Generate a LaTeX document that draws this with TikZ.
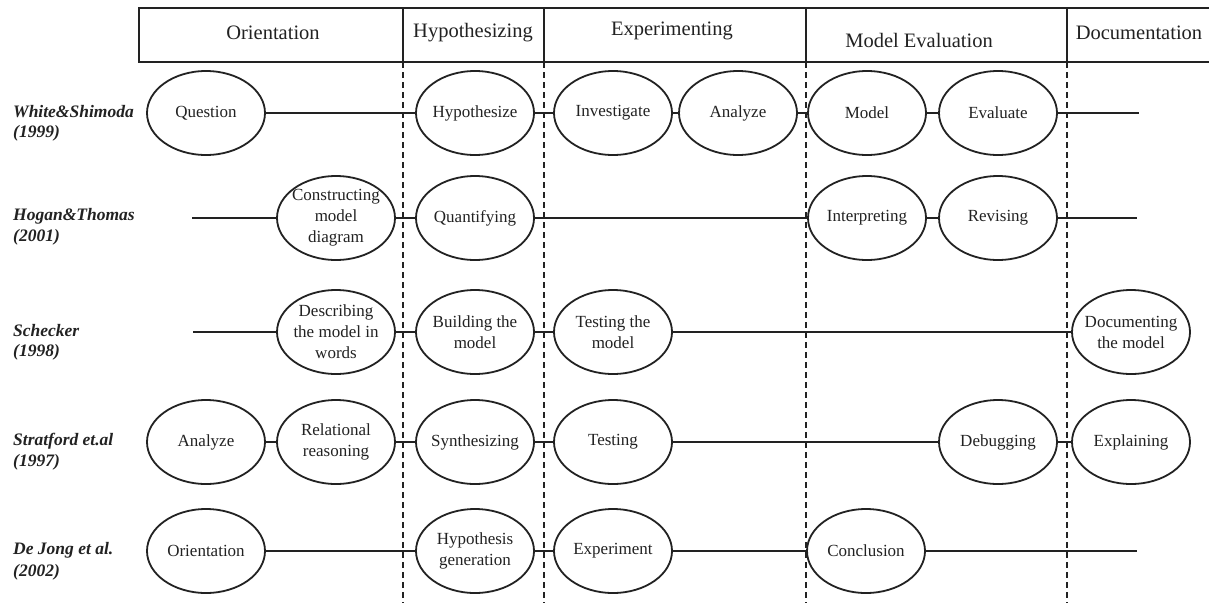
\documentclass[tikz,border=0pt]{standalone}
\usepackage{fontspec}
\setmainfont{Liberation Serif}
\usetikzlibrary{shapes.geometric}
\definecolor{ink}{HTML}{222222}
\begin{document}
\begin{tikzpicture}[x=1pt,y=-1pt,
  stage/.style={ellipse,draw=ink,line width=1.8pt,minimum width=118pt,minimum height=84pt,
     inner sep=-9pt,align=center,text=ink,font=\fontsize{17}{21}\selectfont},
  conn/.style={draw=ink,line width=2.6pt},
  phase/.style={text=ink,font=\fontsize{20.5}{24}\selectfont,inner sep=0pt},
  hdr/.style={draw=ink,line width=2.2pt},
  divider/.style={draw=ink,line width=1.5pt,dash pattern=on 6pt off 4pt},
  author/.style={anchor=west,inner sep=0pt,text=ink,align=left,
     font=\fontsize{17.5}{21}\selectfont\bfseries\itshape}]
\useasboundingbox (0,0) rectangle (1209,603);
\fill[white] (0,0) rectangle (1209,603);

% header frame
\coordinate (htl) at (139,8);
\coordinate (hbl) at (139,62);
\coordinate (htr) at (1209,8);
\coordinate (hbr) at (1209,62);
\draw[hdr] (htr) -- (htl) -- (hbl) -- (hbr);
\foreach \x/\n in {403/a,544/b,806/c,1067/d}{
  \coordinate (t\n) at (\x,8);
  \coordinate (m\n) at (\x,62);
  \coordinate (e\n) at (\x,603);
  \draw[hdr] (t\n) -- (m\n);
  \draw[divider] (m\n) -- (e\n);
}
\node[phase] (p1) at (273,33) {Orientation};
\node[phase] (p2) at (473,33) {Hypothesizing};
\node[phase] (p3) at (672,31) {Experimenting};
\node[phase] (p4) at (919,40) {Model Evaluation};
\node[phase] (p5) at (1139,33) {Documentation};

% author labels
\node[author] (l1) at (13,112) {White\&Shimoda};
\node[author] (l1b) at (13,133) {(1999)};
\node[author] (l2) at (13,216) {Hogan\&Thomas};
\node[author] (l2b) at (13,237) {(2001)};
\node[author] (l3) at (13,331) {Schecker};
\node[author] (l3b) at (13,352) {(1998)};
\node[author] (l4) at (13,441) {Stratford et.al};
\node[author] (l4b) at (13,462) {(1997)};
\node[author] (l5) at (13,550) {De Jong et al.};
\node[author] (l5b) at (13,572) {(2002)};

% row 1
\node[stage] (q)  at (206,113) {Question};
\node[stage] (hy) at (475,113) {Hypothesize};
\node[stage] (iv) at (613,113) {Investigate};
\node[stage] (an) at (738,113) {Analyze};
\node[stage] (mo) at (867,113) {Model};
\node[stage] (ev) at (998,113) {Evaluate};
\coordinate (r1e) at (1139,113);
\draw[conn] (q) -- (hy);
\draw[conn] (hy) -- (iv);
\draw[conn] (iv) -- (an);
\draw[conn] (an) -- (mo);
\draw[conn] (mo) -- (ev);
\draw[conn] (ev) -- (r1e);

% row 2
\coordinate (r2s) at (192,218);
\node[stage] (cm) at (336,218) {Constructing\\model\\diagram};
\node[stage] (qu) at (475,218) {Quantifying};
\node[stage] (in) at (867,218) {Interpreting};
\node[stage] (re) at (998,218) {Revising};
\coordinate (r2e) at (1137,218);
\draw[conn] (r2s) -- (cm);
\draw[conn] (cm) -- (qu);
\draw[conn] (qu) -- (in);
\draw[conn] (in) -- (re);
\draw[conn] (re) -- (r2e);

% row 3
\coordinate (r3s) at (193,332);
\node[stage] (dw) at (336,332) {Describing\\the model in\\words};
\node[stage] (bm) at (475,332) {Building the\\model};
\node[stage] (tm) at (613,332) {Testing the\\model};
\node[stage] (dm) at (1131,332) {Documenting\\the model};
\draw[conn] (r3s) -- (dw);
\draw[conn] (dw) -- (bm);
\draw[conn] (bm) -- (tm);
\draw[conn] (tm) -- (dm);

% row 4
\node[stage] (a4) at (206,442) {Analyze};
\node[stage] (rr) at (336,442) {Relational\\reasoning};
\node[stage] (sy) at (475,442) {Synthesizing};
\node[stage] (te) at (613,442) {Testing};
\node[stage] (db) at (998,442) {Debugging};
\node[stage] (ex) at (1131,442) {Explaining};
\draw[conn] (a4) -- (rr);
\draw[conn] (rr) -- (sy);
\draw[conn] (sy) -- (te);
\draw[conn] (te) -- (db);
\draw[conn] (db) -- (ex);

% row 5
\node[stage] (or) at (206,551) {Orientation};
\node[stage] (hg) at (475,551) {Hypothesis\\generation};
\node[stage] (xp) at (613,551) {Experiment};
\node[stage] (co) at (866,551) {Conclusion};
\coordinate (r5e) at (1137,551);
\draw[conn] (or) -- (hg);
\draw[conn] (hg) -- (xp);
\draw[conn] (xp) -- (co);
\draw[conn] (co) -- (r5e);
\end{tikzpicture}
\end{document}
